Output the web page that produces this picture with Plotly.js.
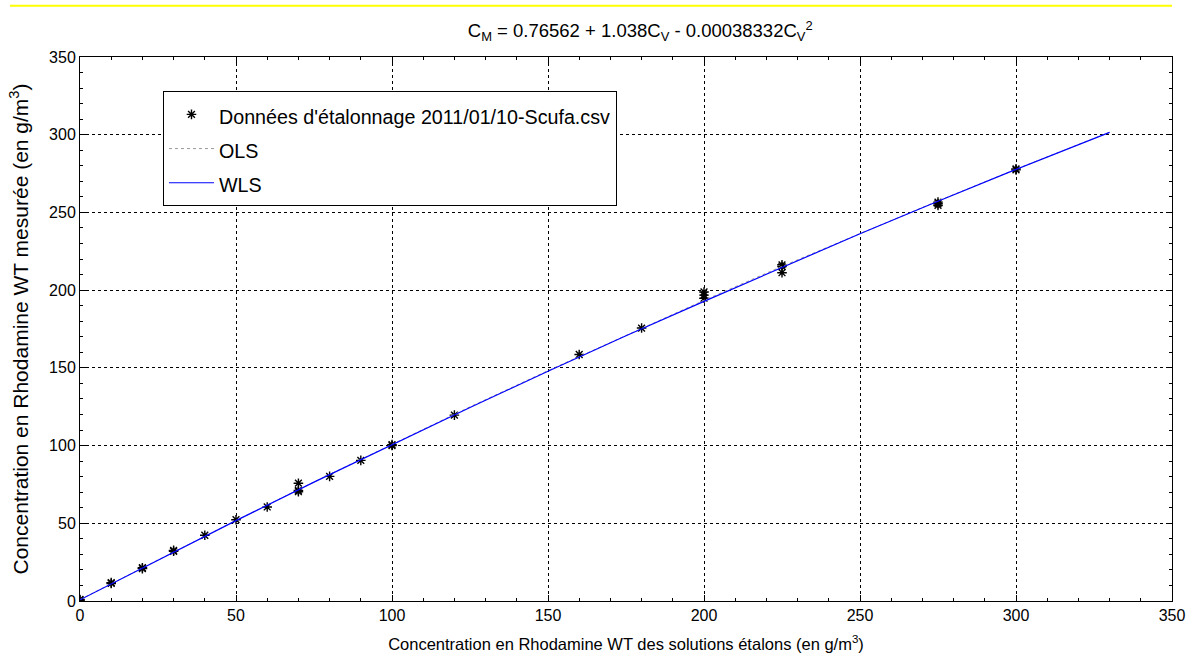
<!DOCTYPE html>
<html>
<head>
<meta charset="utf-8">
<script src="https://cdn.plot.ly/plotly-3.0.1.min.js"></script>
<style>
  html, body { margin: 0; padding: 0; background: #fff; }
  #chart { width: 1190px; height: 657px; }
</style>
</head>
<body>
<div id="chart"></div>
<script>
// Calibration data (standard concentration vs measured concentration)
const concStd = [0, 0, 10, 10, 20, 20, 30, 30, 40, 50, 60, 70, 70, 70, 80, 90, 100, 100, 120, 160, 180, 200, 200, 200, 225, 225, 225, 275, 275, 275, 300, 300];
const concMes = [0.5, 1.0, 11.3, 11.8, 20.8, 21.4, 32.0, 32.6, 42.3, 52.3, 60.5, 70.3, 71.2, 75.8, 80.2, 90.5, 100.0, 100.6, 119.6, 158.6, 175.6, 194.8, 196.8, 198.8, 211.2, 215.2, 216.3, 254.5, 255.6, 256.6, 277.4, 278.0];

// Fitted curves
const fitX = [0, 25, 50, 75, 100, 125, 150, 175, 200, 225, 250, 275, 300, 330];
const olsY = [0.9, 26.5, 51.8, 76.6, 101.0, 124.9, 148.2, 171.0, 193.4, 215.3, 236.6, 257.4, 277.8, 301.6];
const wlsY = [0.77, 26.5, 51.7, 76.5, 100.7, 124.5, 147.8, 170.7, 192.8, 214.6, 236.3, 257.2, 277.7, 301.5];

const titleText = 'C<sub>M</sub> = 0.76562 + 1.038C<sub>V</sub> - 0.00038332C<sub>V</sub><sup>2</sup>';
const xTitle = 'Concentration en Rhodamine WT des solutions étalons (en g/m<sup>3</sup>)';
const yTitle = 'Concentration en Rhodamine WT mesurée (en g/m<sup>3</sup>)';
const legendNames = ["Données d'étalonnage 2011/01/10-Scufa.csv", 'OLS', 'WLS'];

const legendLabel = s => '<span style="font-size:19.7px">' + s + '</span>';

const traces = [
  {
    x: concStd, y: concMes, type: 'scatter', mode: 'markers', name: legendLabel(legendNames[0]),
    marker: { symbol: 'asterisk-open', size: 8, color: '#000', line: { color: '#000', width: 1.4 } }
  },
  {
    x: fitX, y: olsY, type: 'scatter', mode: 'lines', name: legendLabel(legendNames[1]),
    line: { color: '#999999', width: 1, dash: 'dot' }
  },
  {
    x: fitX, y: wlsY, type: 'scatter', mode: 'lines', name: legendLabel(legendNames[2]),
    line: { color: '#0000ff', width: 1.2 }
  }
];

const axisCommon = {
  range: [0, 350], dtick: 50, tick0: 0,
  showgrid: true, gridcolor: '#000', griddash: 'dot', gridwidth: 1,
  zeroline: false, showline: true, linecolor: '#000', linewidth: 1, mirror: 'ticks',
  ticks: 'inside', ticklen: 6, tickcolor: '#000',
  minor: { dtick: 10, ticks: 'inside', ticklen: 3, tickcolor: '#000', showgrid: false },
  tickfont: { family: 'Liberation Sans, Arial, sans-serif', size: 16, color: '#000' }
};

const layout = {
  width: 1190, height: 657,
  paper_bgcolor: '#fff', plot_bgcolor: '#fff',
  margin: { l: 80, r: 18, t: 57, b: 56 },
  font: { family: 'Liberation Sans, Arial, sans-serif', size: 15, color: '#000' },
  title: { text: titleText, x: 0.538, xanchor: 'center', y: 0.953, yanchor: 'middle',
           font: { size: 18.5, color: '#000' } },
  xaxis: Object.assign({}, axisCommon, {
    title: { text: xTitle, font: { size: 16.5, color: '#000' }, standoff: 15 }
  }),
  yaxis: Object.assign({}, axisCommon, {
    title: { text: yTitle, font: { size: 21, color: '#000' }, standoff: 14 }
  }),
  showlegend: true,
  legend: {
    x: 0.076, y: 0.937, xanchor: 'left', yanchor: 'top',
    bgcolor: '#fff', bordercolor: '#000', borderwidth: 1,
    font: { size: 24, color: '#000' }, tracegroupgap: 0, itemwidth: 45
  },
  shapes: [
    { type: 'line', xref: 'paper', yref: 'paper', x0: -0.064, x1: 1.0, y0: 1.094, y1: 1.094,
      line: { color: '#ffff00', width: 2 } }
  ]
};

Plotly.newPlot('chart', traces, layout, { displayModeBar: false, staticPlot: true });
</script>
</body>
</html>
